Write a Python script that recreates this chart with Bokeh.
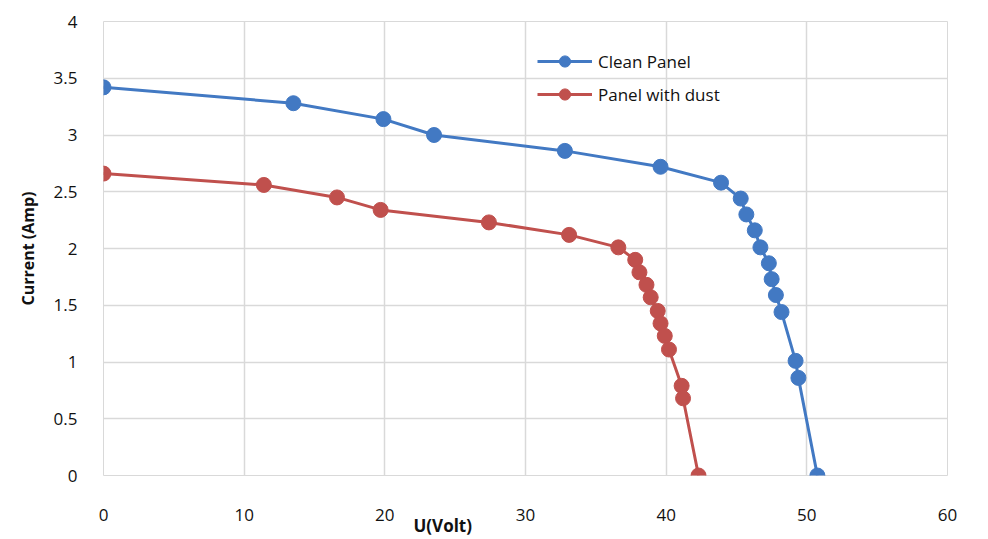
from bokeh.plotting import figure
from bokeh.models import Range1d, FixedTicker, Legend, LegendItem, Title
from bokeh.embed import file_html
from bokeh.resources import INLINE

# Data
clean_u = [0, 13.5, 19.9, 23.5, 32.8, 39.6, 43.9, 45.3, 45.7, 46.3, 46.7, 47.3, 47.5, 47.8, 48.2, 49.2, 49.4, 50.75]
clean_i = [3.42, 3.28, 3.14, 3.00, 2.86, 2.72, 2.58, 2.44, 2.30, 2.16, 2.01, 1.87, 1.73, 1.59, 1.44, 1.01, 0.86, 0.0]

dust_u = [0, 11.4, 16.6, 19.7, 27.4, 33.1, 36.6, 37.8, 38.1, 38.6, 38.9, 39.4, 39.6, 39.9, 40.2, 41.1, 41.2, 42.3]
dust_i = [2.66, 2.56, 2.45, 2.34, 2.23, 2.12, 2.01, 1.90, 1.79, 1.68, 1.57, 1.45, 1.34, 1.23, 1.11, 0.79, 0.68, 0.0]

x_ticks = [0, 10, 20, 30, 40, 50, 60]
y_ticks = [0, 0.5, 1, 1.5, 2, 2.5, 3, 3.5, 4]
y_tick_labels = ["0", "0.5", "1", "1.5", "2", "2.5", "3", "3.5", "4"]

series_names = ["Clean Panel", "Panel with dust"]
x_title = "U(Volt)"
y_title = "Current (Amp)"

BLUE = "#4279C3"
RED = "#C0504D"
FONT = "Open Sans"
TXT = "#111111"
GRID = "#D9D9D9"

p = figure(width=988, height=539, output_backend="svg", toolbar_location=None,
           x_range=Range1d(0, 60), y_range=Range1d(0, 4),
           min_border_left=103, min_border_right=41, min_border_top=21, min_border_bottom=64)
p.background_fill_color = "white"
p.border_fill_color = "white"
p.outline_line_color = GRID
p.outline_line_width = 1

for ax in (p.xaxis[0], p.yaxis[0]):
    ax.axis_line_color = None
    ax.major_tick_line_color = None
    ax.minor_tick_line_color = None
    ax.major_label_text_font = FONT
    ax.major_label_text_font_size = "17px"
    ax.major_label_text_color = TXT

p.xaxis.ticker = FixedTicker(ticks=x_ticks)
p.yaxis.ticker = FixedTicker(ticks=y_ticks)
p.yaxis.major_label_overrides = {t: l for t, l in zip(y_ticks, y_tick_labels)}
p.xaxis.major_label_standoff = 27
p.yaxis.major_label_standoff = 20

p.yaxis.axis_label = y_title
p.yaxis.axis_label_text_font = FONT
p.yaxis.axis_label_text_font_style = "bold"
p.yaxis.axis_label_text_font_size = "16px"
p.yaxis.axis_label_text_color = TXT
p.yaxis.axis_label_standoff = 12

p.xgrid.ticker = FixedTicker(ticks=x_ticks)
p.ygrid.ticker = FixedTicker(ticks=y_ticks)
p.xgrid.grid_line_color = GRID
p.ygrid.grid_line_color = GRID
p.xgrid.grid_line_width = 1.5
p.ygrid.grid_line_width = 1.5

r1l = p.line(clean_u, clean_i, line_color=BLUE, line_width=3)
r1m = p.scatter(clean_u, clean_i, size=15, fill_color=BLUE, line_color=BLUE)
r2l = p.line(dust_u, dust_i, line_color=RED, line_width=3)
r2m = p.scatter(dust_u, dust_i, size=15, fill_color=RED, line_color=RED)

legend = Legend(items=[LegendItem(label=series_names[0], renderers=[r1l, r1m]),
                       LegendItem(label=series_names[1], renderers=[r2l, r2m])],
                location=(434, 367), orientation="vertical",
                border_line_color=None, background_fill_alpha=0,
                padding=0, margin=0, spacing=5,
                glyph_width=55, glyph_height=28, label_height=28,
                label_standoff=6,
                label_text_font=FONT, label_text_font_size="17px", label_text_color=TXT)
p.add_layout(legend, "center")

xt = Title(text=x_title, align="left", offset=310, standoff=-27,
           text_font=FONT, text_font_size="17px", text_font_style="bold", text_color=TXT)
p.add_layout(xt, "below")

open("out.html", "w").write(file_html(p, INLINE))
